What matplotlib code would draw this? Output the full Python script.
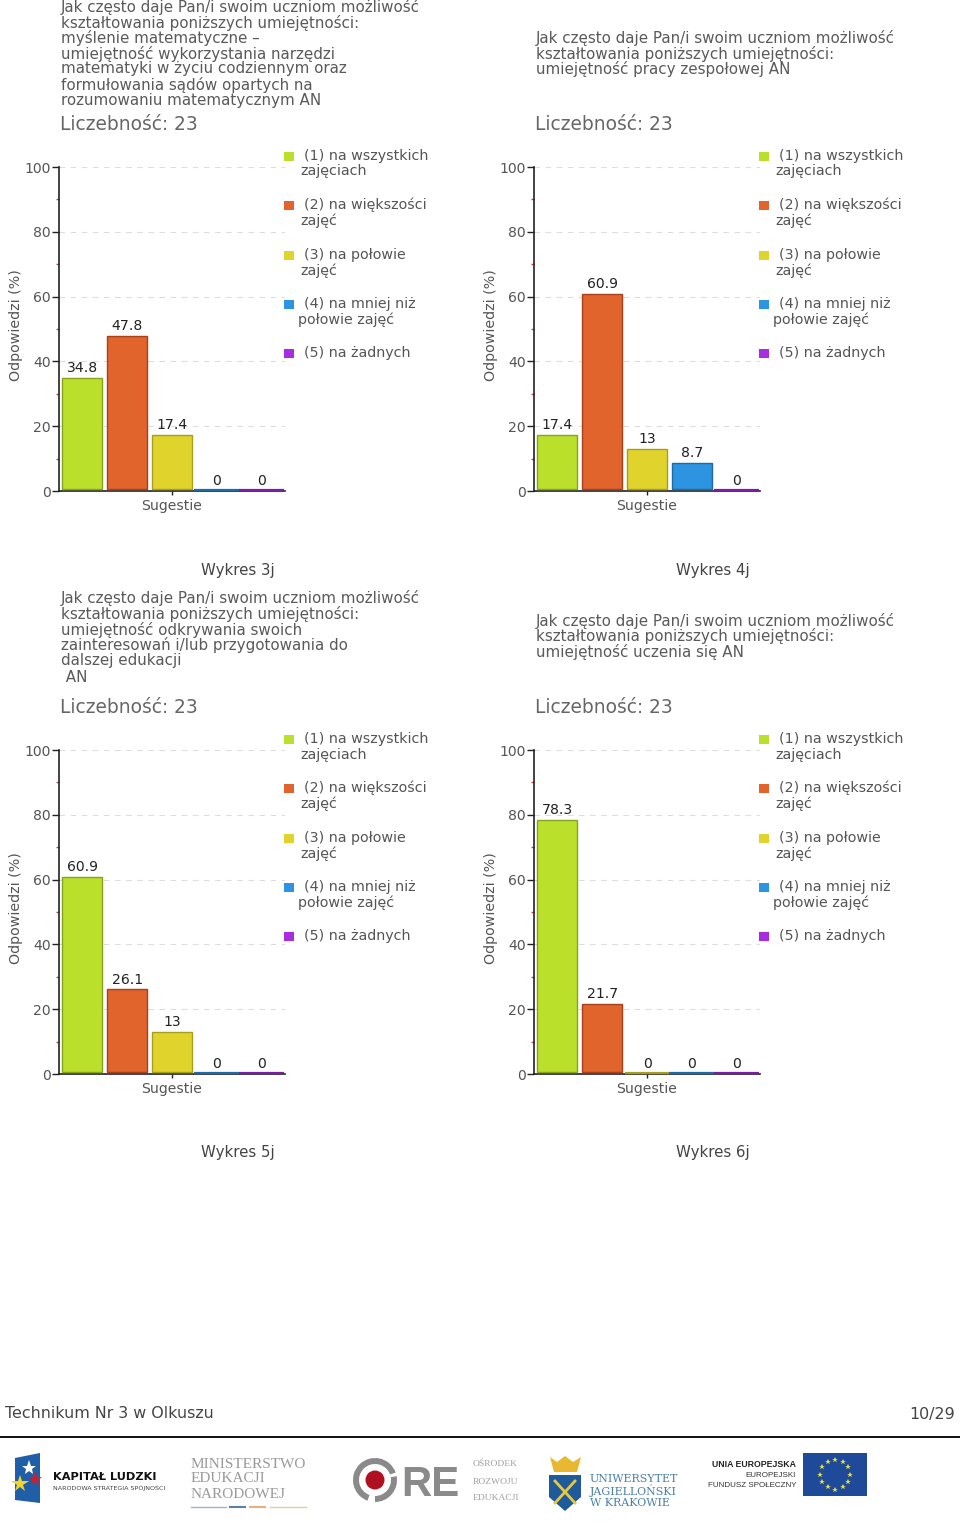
import numpy as np
import matplotlib
matplotlib.use("Agg")
import matplotlib.pyplot as plt
from matplotlib.patches import Rectangle, Polygon, Circle, Wedge

plt.rcParams['font.family'] = ['DejaVu Sans']

W, H = 960, 1525
DPI = 100
PX = 72 / DPI

categories = ["(1)", "(2)", "(3)", "(4)", "(5)"]
values_3j = [34.8, 47.8, 17.4, 0, 0]
values_4j = [17.4, 60.9, 13, 8.7, 0]
values_5j = [60.9, 26.1, 13, 0, 0]
values_6j = [78.3, 21.7, 0, 0, 0]
colors = ["#BBE02C", "#E0642C", "#E0D42C", "#2C94E0", "#A82CE0"]
edges = ["#86A31F", "#A8401C", "#A89E1E", "#1C6AA8", "#7A1CA8"]
y_ticks = [0, 20, 40, 60, 80, 100]
y_minor = [10, 30, 50, 70, 90]
legend_lines = [["(1) na wszystkich", "zajęciach"],
                ["(2) na większości", "zajęć"],
                ["(3) na połowie", "zajęć"],
                ["(4) na mniej niż", "połowie zajęć"],
                ["(5) na żadnych"]]
title_3j = ["Jak często daje Pan/i swoim uczniom możliwość",
            "kształtowania poniższych umiejętności:",
            "myślenie matematyczne –",
            "umiejętność wykorzystania narzędzi",
            "matematyki w życiu codziennym oraz",
            "formułowania sądów opartych na",
            "rozumowaniu matematycznym AN"]
title_4j = ["Jak często daje Pan/i swoim uczniom możliwość",
            "kształtowania poniższych umiejętności:",
            "umiejętność pracy zespołowej AN"]
title_5j = ["Jak często daje Pan/i swoim uczniom możliwość",
            "kształtowania poniższych umiejętności:",
            "umiejętność odkrywania swoich",
            "zainteresowań i/lub przygotowania do",
            "dalszej edukacji",
            " AN"]
title_6j = ["Jak często daje Pan/i swoim uczniom możliwość",
            "kształtowania poniższych umiejętności:",
            "umiejętność uczenia się AN"]

fig = plt.figure(figsize=(W / DPI, H / DPI), dpi=DPI, facecolor="white")

bg = fig.add_axes([0, 0, 1, 1])
bg.set_xlim(0, W)
bg.set_ylim(H, 0)
bg.axis("off")

GRAY = "#555555"


def txt(x, y, s, size, color=GRAY, ha="left", va="center_baseline", **kw):
    bg.text(x, y - 1.5, s, fontsize=size * PX, color=color, ha=ha, va=va, **kw)


def chart(dx, dy, values, title, title_ys, caption):
    for line, y in zip(title, title_ys):
        txt(61 + dx, y, line, 15.15, "#5a5a5a")
    txt(60 + dx, 124 + dy, "Liczebność: 23", 18.7, "#666666")

    left, right = 59 + dx, 285 + dx
    top, bottom = 167 + dy, 491 + dy
    ax = fig.add_axes([left / W, 1 - bottom / H, (right - left) / W, (bottom - top) / H])
    ax.set_xlim(0, 5.05)
    ax.set_ylim(0, 100)
    ax.patch.set_alpha(0)
    for s in ("top", "right"):
        ax.spines[s].set_visible(False)
    ax.spines["left"].set_linewidth(1.2)
    ax.spines["bottom"].set_linewidth(1.2)
    ax.spines["left"].set_color("#222222")
    ax.spines["bottom"].set_color("#222222")
    ax.set_yticks(y_ticks)
    ax.set_yticks(y_minor, minor=True)
    ax.tick_params(axis="y", which="major", length=5, width=1, color="#222222",
                   labelcolor=GRAY, labelsize=14 * PX, pad=1)
    ax.tick_params(axis="y", which="minor", length=2.5, width=1, color="#D04040")
    ax.set_xticks([2.514])
    ax.set_xticklabels(["Sugestie"], fontsize=14 * PX, color=GRAY)
    ax.tick_params(axis="x", length=3, width=1, color="#222222", pad=3)
    ax.set_ylabel("Odpowiedzi (%)", fontsize=14.3 * PX, color=GRAY)
    ax.yaxis.set_label_coords((23 + dx - left) / (right - left), 0.511)
    ax.grid(axis="y", which="major", color="#DDDDDD", ls=(0, (5, 5)), lw=0.8)
    ax.set_axisbelow(True)

    x = np.arange(len(values)) + 0.525
    v = np.array(values, dtype=float)
    for xi, vi, c, e in zip(x, v, colors, edges):
        if vi > 0:
            ax.bar(xi, vi - 0.6, bottom=0.6, width=0.894, color=c, edgecolor=e, linewidth=1, zorder=3)
        else:
            ax.plot([xi - 0.5, xi + 0.5], [0.25, 0.25], color=e, lw=1.6, zorder=3,
                    solid_capstyle="butt", clip_on=False)
        ax.text(xi, vi + 0.9, f"{vi:g}", ha="center", va="bottom", fontsize=14 * PX,
                color="#222222", zorder=4)

    ly = [156, 205, 255, 304, 353]
    for i, (y, lines) in enumerate(zip(ly, legend_lines)):
        bg.add_patch(Rectangle((284 + dx, y + dy - 4.5), 9.5, 9.5, color=colors[i], lw=0))
        txt(304 + dx, y + dy, lines[0], 14.2)
        if len(lines) > 1:
            txt((298 if i == 3 else 300) + dx, y + dy + 15.5, lines[1], 14.2)

    txt(238 + dx, 570 + dy, caption, 15, "#444444", ha="center")


chart(0, 0, values_3j, title_3j, [7, 23, 38, 54, 69, 85, 101], "Wykres 3j")
chart(475, 0, values_4j, title_4j, [38, 54, 69], "Wykres 4j")
chart(0, 583, values_5j, title_5j, [598, 614, 630, 645, 660, 677], "Wykres 5j")
chart(475, 583, values_6j, title_6j, [621, 636, 652], "Wykres 6j")

# footer
txt(5, 1414, "Technikum Nr 3 w Olkuszu", 15.85, "#444444")
txt(955, 1414, "10/29", 15.85, "#444444", ha="right")
bg.plot([0, 960], [1437, 1437], color="#111111", lw=1.4)

# Kapitał Ludzki logo
bg.add_patch(Polygon([(15, 1458), (40, 1453), (40, 1503), (15, 1500)], color="#1F5FA8", lw=0))
bg.plot([29], [1468], marker="*", ms=11, color="white", mew=0)
bg.plot([20], [1484], marker="*", ms=13, color="#F2D230", mew=0)
bg.plot([35], [1479], marker="*", ms=11, color="#C8202C", mew=0)
txt(53, 1478, "KAPITAŁ LUDZKI", 11.4, "#111111", fontweight="bold")
txt(53, 1489, "NARODOWA STRATEGIA SPÓJNOŚCI", 6.4, "#444444")

# MEN logo
for y, s in zip([1464, 1479, 1495], ["MINISTERSTWO", "EDUKACJI", "NARODOWEJ"]):
    txt(191, y, s, 15.2, "#9a9a9a", family="Liberation Serif")
bg.plot([191, 226], [1507, 1507], color="#A8B4C0", lw=1)
bg.plot([230, 245], [1507, 1507], color="#5F7F9F", lw=1.5)
bg.plot([250, 265], [1507, 1507], color="#E8B080", lw=1.5)
bg.plot([270, 306], [1507, 1507], color="#E8C8A8", lw=1)

# ORE logo
bg.add_patch(Wedge((375, 1480), 22, 110, 340, width=6, color="#8a8a8a", lw=0))
bg.add_patch(Wedge((375, 1480), 22, 350, 90, width=6, color="#8a8a8a", lw=0))
bg.add_patch(Circle((375, 1480), 9.5, color="#B01020", lw=0))
txt(401, 1482, "RE", 42, "#8a8a8a", fontweight="bold", family="Liberation Sans")
for y, s in zip([1465, 1482, 1499], ["OŚRODEK", "ROZWOJU", "EDUKACJI"]):
    txt(473, y, s, 9.5, "#a0a0a0", family="Liberation Serif")

# UJ logo
bg.add_patch(Polygon([(550, 1457), (557, 1462), (565, 1456), (573, 1462), (581, 1457),
                      (577, 1472), (554, 1472)], color="#E8B830", lw=0))
bg.add_patch(Polygon([(549, 1475), (581, 1475), (581, 1497), (565, 1511), (549, 1497)],
                     color="#1F5A9A", lw=0))
bg.plot([555, 575], [1481, 1503], color="#E8C840", lw=2)
bg.plot([575, 555], [1481, 1503], color="#E8C840", lw=2)
for y, s in zip([1479, 1491, 1504], ["UNIWERSYTET", "JAGIELLOŃSKI", "W KRAKOWIE"]):
    txt(590, y, s, 11, "#4A7FA8", family="DejaVu Serif")

# EU logo
txt(796, 1465, "UNIA EUROPEJSKA", 8.8, "#222222", ha="right", fontweight="bold", family="Liberation Sans")
txt(796, 1476, "EUROPEJSKI", 8, "#333333", ha="right", family="Liberation Sans")
txt(796, 1486, "FUNDUSZ SPOŁECZNY", 8, "#333333", ha="right", family="Liberation Sans")
bg.add_patch(Rectangle((803, 1453), 64, 43, color="#1F4A9A", lw=0))
ang = np.deg2rad(np.arange(0, 360, 30))
bg.plot(835 + 15 * np.cos(ang), 1474.5 + 15 * np.sin(ang), ls="none", marker="*", ms=4,
        color="#E8E040", mew=0)

fig.savefig("out.png", dpi=DPI, facecolor="white")
